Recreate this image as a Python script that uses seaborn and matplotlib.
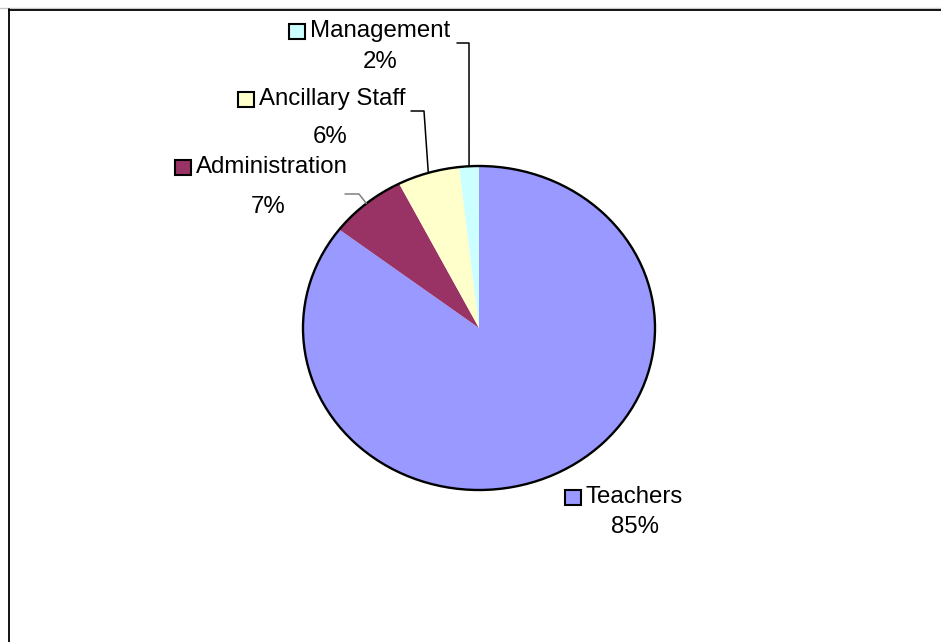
import numpy as np
import matplotlib
matplotlib.use("Agg")
import matplotlib.pyplot as plt
from matplotlib.patches import Rectangle, Ellipse
import seaborn as sns

# ---- data ----
categories = ["Teachers", "Administration", "Ancillary Staff", "Management"]
shares = [85.4, 7.1, 5.7, 1.8]
colors = ["#9999FF", "#993366", "#FFFFCC", "#CCFFFF"]

sns.set_theme(style="white")
plt.rcParams["font.family"] = ["Liberation Sans", "DejaVu Sans"]

W, H = 941, 642
fig = plt.figure(figsize=(W / 100, H / 100), dpi=100)
fig.patch.set_facecolor("white")

# pie axes: ellipse centre (479, 328), rx 176, ry 162 (pixels from top-left)
cx, cy, rx, ry = 479, 328, 176, 162
ax = fig.add_axes([(cx - rx) / W, (H - (cy + ry)) / H, 2 * rx / W, 2 * ry / H])
wedges, _ = ax.pie(shares, colors=colors, startangle=90, counterclock=False,
                   radius=1.0, wedgeprops=dict(linewidth=0, edgecolor="none"))
for w in wedges:
    w.set_clip_on(False)
ax.set_xlim(-1, 1)
ax.set_ylim(-1, 1)
ax.set_aspect("auto")
ax.axis("off")
ax.add_patch(Ellipse((0, 0), 2, 2, fill=False, edgecolor="black", linewidth=1.7,
                     zorder=5, clip_on=False))

# overlay axes in pixel coords (top-left origin)
ov = fig.add_axes([0, 0, 1, 1], facecolor="none")
ov.set_xlim(0, W)
ov.set_ylim(H, 0)
ov.axis("off")

# chart border
ov.plot([0, W], [7.5, 7.5], color="#c8c8c8", linewidth=1.0)
ov.plot([9, W + 5], [9.5, 9.5], color="black", linewidth=1.3)
ov.plot([9.5, 9.5], [9, H + 5], color="black", linewidth=1.3)

fs = 17.3
# label layout: (box_left, box_top, text_y, pct_x, pct_y)
layout = {
    "Teachers": (565, 490, 497, 635, 527),
    "Administration": (175, 160, 167, 268, 207),
    "Ancillary Staff": (238, 92, 99, 330, 137),
    "Management": (289, 24, 31, 380, 62),
}
for cat, val, col in zip(categories, shares, colors):
    bx, by, ty, px, py = layout[cat]
    ov.add_patch(Rectangle((bx, by), 16, 15, facecolor=col, edgecolor="black", linewidth=1.5))
    ov.text(bx + 21, ty, cat, fontsize=fs, va="center", ha="left", color="black")
    ov.text(px, py, f"{round(val):.0f}%", fontsize=fs, va="center", ha="center", color="black")

# leader lines from wedge mid-angles
def edge_point(w):
    mid = np.deg2rad((w.theta1 + w.theta2) / 2)
    return cx + rx * np.cos(mid), cy - ry * np.sin(mid)

leaders = {
    "Management": ((457, 43), (469, 43), "black"),
    "Ancillary Staff": ((411, 111), (424, 111), "black"),
    "Administration": ((345, 194), (359, 194), "#808080"),
}
for cat, w in zip(categories, wedges):
    if cat in leaders:
        (x0, y0), (x1, y1), lc = leaders[cat]
        ex, ey = edge_point(w)
        ov.plot([x0, x1, ex], [y0, y1, ey], color=lc, linewidth=1.1)

fig.savefig("out.png", dpi=100, facecolor="white")
